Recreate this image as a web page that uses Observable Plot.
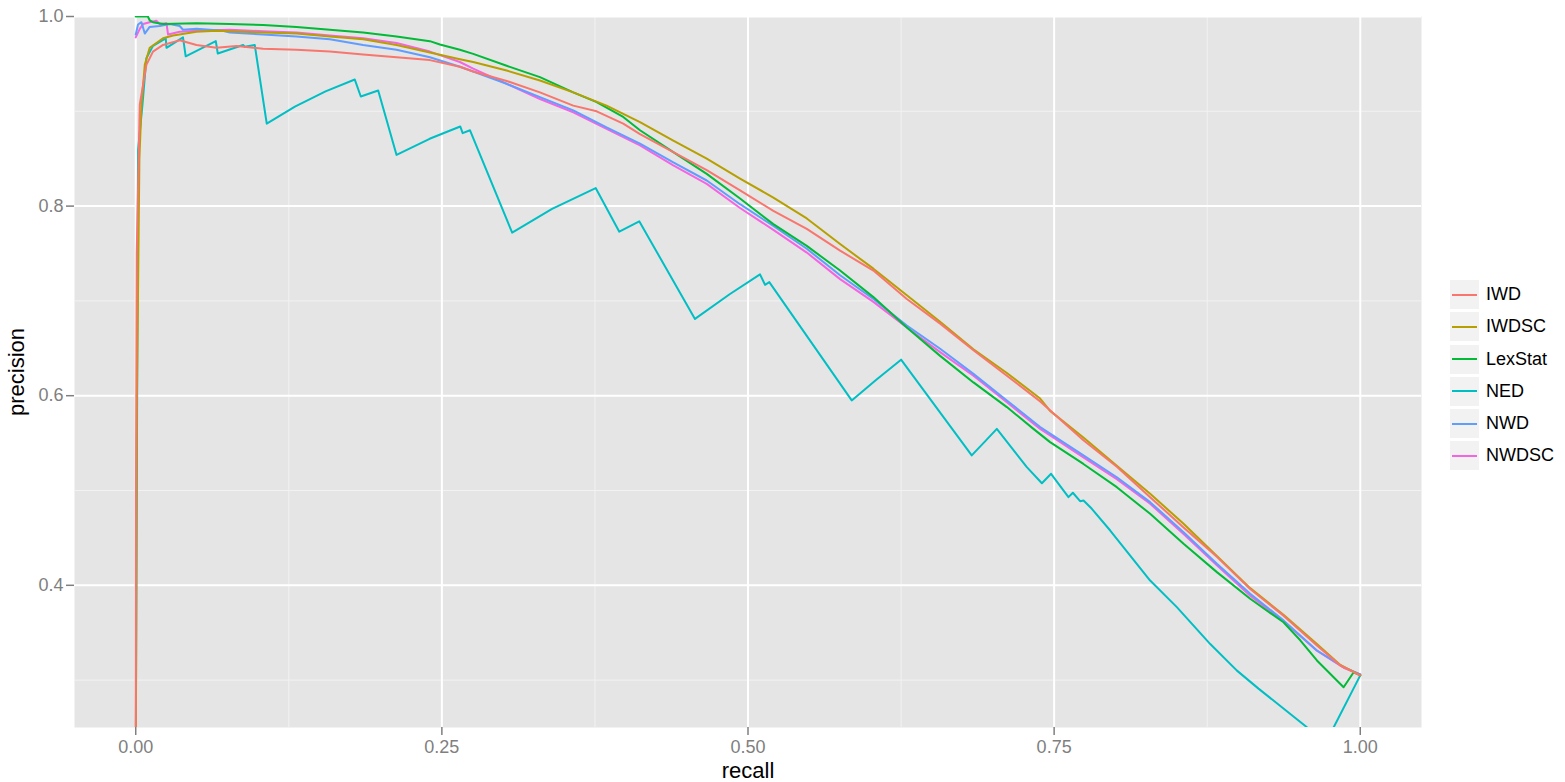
<!DOCTYPE html>
<html>
<head>
<meta charset="utf-8">
<script src="https://cdn.jsdelivr.net/npm/d3@7"></script>
<script src="https://cdn.jsdelivr.net/npm/@observablehq/plot@0.6"></script>
<style>
  body { margin: 0; background: #fff; font-family: "Liberation Sans", Arial, sans-serif; }
  #wrap { position: relative; width: 1565px; height: 782px; }
  #legend { position: absolute; left: 1450px; top: 280px; }
  .item { display: flex; align-items: center; height: 29px; margin-bottom: 3.3px; }
  .key { width: 29px; height: 29px; background: #F2F2F2; position: relative; margin-right: 7px; }
  .key span { position: absolute; left: 2px; right: 2px; top: 13.5px; height: 2px; }
  .lab { font-size: 18px; color: #000; }
  g[aria-label="x-axis tick"], g[aria-label="y-axis tick"] { stroke: #7F7F7F; stroke-width: 1.5px; }
  g[aria-label="x-axis tick label"], g[aria-label="y-axis tick label"] { fill: #7F7F7F; font-size: 18px; }
  g[aria-label="x-axis label"], g[aria-label="y-axis label"] { fill: #000; font-size: 22px; }
</style>
</head>
<body>
<div id="wrap"></div>
<script>
// ---- data ----
const series = ["IWD", "IWDSC", "LexStat", "NED", "NWD", "NWDSC"];
const colors = ["#F8766D", "#B79F00", "#00BA38", "#00BFC4", "#619CFF", "#F564E3"];

const xTicks = [0, 0.25, 0.5, 0.75, 1.0];
const xMinor = [0.125, 0.375, 0.625, 0.875];
const yTicks = [0.4, 0.6, 0.8, 1.0];
const yMinor = [0.3, 0.5, 0.7, 0.9];

const iwdRecall = [0, 0.0002, 0.0008, 0.0033, 0.0087, 0.0141, 0.0223, 0.0333, 0.0359, 0.0496, 0.0659, 0.0823, 0.104, 0.1313, 0.1585, 0.1857, 0.213, 0.2402, 0.2647, 0.2756, 0.3029, 0.3301, 0.3573, 0.3764, 0.3981, 0.4118, 0.439, 0.4663, 0.4935, 0.5207, 0.548, 0.5752, 0.6024, 0.6297, 0.6569, 0.6841, 0.7114, 0.7386, 0.7739, 0.8012, 0.8284, 0.8557, 0.8829, 0.9101, 0.9373, 0.9646, 0.9837, 1.0];
const iwdPrecision = [0.2, 0.5, 0.75, 0.907, 0.949, 0.963, 0.970, 0.974, 0.975, 0.970, 0.967, 0.969, 0.966, 0.965, 0.963, 0.960, 0.957, 0.954, 0.947, 0.942, 0.932, 0.920, 0.906, 0.900, 0.887, 0.876, 0.857, 0.838, 0.8165, 0.795, 0.776, 0.753, 0.732, 0.702, 0.676, 0.648, 0.621, 0.594, 0.553, 0.525, 0.493, 0.461, 0.430, 0.396, 0.368, 0.3365, 0.3154, 0.305];

const iwdscRecall = [0, 0.001, 0.003, 0.0047, 0.0074, 0.0114, 0.0223, 0.0305, 0.0496, 0.0659, 0.104, 0.1313, 0.1585, 0.1857, 0.213, 0.2402, 0.2647, 0.2756, 0.3029, 0.3301, 0.3573, 0.3845, 0.4118, 0.439, 0.4663, 0.4935, 0.5207, 0.548, 0.5752, 0.6024, 0.6297, 0.6569, 0.6841, 0.7114, 0.7386, 0.7467, 0.7739, 0.8012, 0.8284, 0.8557, 0.8829, 0.9101, 0.9373, 0.9646, 0.9837, 1.0];
const iwdscPrecision = [0.2, 0.6, 0.85, 0.907, 0.949, 0.967, 0.977, 0.980, 0.984, 0.985, 0.983, 0.982, 0.979, 0.976, 0.970, 0.962, 0.955, 0.952, 0.943, 0.9325, 0.920, 0.906, 0.8885, 0.869, 0.850, 0.829, 0.809, 0.787, 0.760, 0.734, 0.706, 0.678, 0.649, 0.624, 0.597, 0.584, 0.556, 0.526, 0.4965, 0.465, 0.431, 0.397, 0.369, 0.338, 0.316, 0.305];

const lexRecall = [0, 0.0099, 0.0114, 0.0141, 0.0223, 0.0496, 0.0768, 0.104, 0.1313, 0.1585, 0.1857, 0.213, 0.2402, 0.2484, 0.2647, 0.2756, 0.3029, 0.3301, 0.3573, 0.3764, 0.3981, 0.4118, 0.439, 0.4663, 0.4935, 0.5207, 0.548, 0.5752, 0.6024, 0.6297, 0.6569, 0.6841, 0.7114, 0.7331, 0.7467, 0.7739, 0.8012, 0.8284, 0.8557, 0.8829, 0.9101, 0.9373, 0.951, 0.9646, 0.9864, 0.9946, 1.0];
const lexPrecision = [1.0, 1.0, 0.996, 0.994, 0.992, 0.993, 0.992, 0.991, 0.989, 0.986, 0.983, 0.979, 0.974, 0.9705, 0.965, 0.9606, 0.948, 0.936, 0.920, 0.9096, 0.894, 0.880, 0.857, 0.834, 0.808, 0.781, 0.758, 0.732, 0.704, 0.672, 0.642, 0.614, 0.588, 0.565, 0.551, 0.528, 0.5035, 0.4754, 0.4438, 0.4139, 0.3858, 0.361, 0.342, 0.3207, 0.2925, 0.3083, 0.305];

const nedRecall = [0, 0.0019, 0.0055, 0.0087, 0.0141, 0.0245, 0.0251, 0.0386, 0.0408, 0.0654, 0.067, 0.0877, 0.089, 0.0972, 0.107, 0.13, 0.155, 0.1789, 0.1838, 0.198, 0.213, 0.24, 0.265, 0.267, 0.273, 0.3074, 0.34, 0.3756, 0.3949, 0.4112, 0.4567, 0.485, 0.5098, 0.5139, 0.5174, 0.5847, 0.605, 0.625, 0.6827, 0.693, 0.7032, 0.7277, 0.740, 0.7475, 0.7617, 0.7653, 0.7712, 0.774, 0.7808, 0.7958, 0.8284, 0.8502, 0.8775, 0.8993, 0.9169, 0.9567, 0.9714, 0.9782, 1.0];
const nedPrecision = [0.2, 0.859, 0.907, 0.956, 0.969, 0.977, 0.967, 0.978, 0.958, 0.974, 0.961, 0.970, 0.968, 0.970, 0.887, 0.905, 0.921, 0.9335, 0.9156, 0.922, 0.854, 0.871, 0.884, 0.877, 0.880, 0.772, 0.797, 0.819, 0.773, 0.784, 0.681, 0.707, 0.728, 0.717, 0.7198, 0.595, 0.617, 0.638, 0.537, 0.551, 0.565, 0.5246, 0.5077, 0.5176, 0.493, 0.4976, 0.4887, 0.4895, 0.4807, 0.4578, 0.405, 0.377, 0.338, 0.310, 0.291, 0.250, 0.235, 0.250, 0.305];

const nwdRecall = [0, 0.0019, 0.0047, 0.0074, 0.0114, 0.0196, 0.0278, 0.0359, 0.0386, 0.0496, 0.0713, 0.0768, 0.104, 0.1313, 0.1585, 0.1857, 0.213, 0.2402, 0.2647, 0.2756, 0.3029, 0.3301, 0.3573, 0.3845, 0.4118, 0.439, 0.4663, 0.4935, 0.5207, 0.548, 0.5752, 0.6024, 0.6297, 0.6569, 0.6841, 0.7114, 0.7386, 0.7467, 0.7739, 0.8012, 0.8284, 0.8557, 0.8829, 0.9101, 0.9373, 0.9646, 0.9864, 1.0];
const nwdPrecision = [0.981, 0.9916, 0.994, 0.982, 0.989, 0.990, 0.992, 0.990, 0.986, 0.987, 0.985, 0.983, 0.981, 0.979, 0.976, 0.970, 0.965, 0.957, 0.947, 0.942, 0.929, 0.915, 0.901, 0.883, 0.866, 0.846, 0.827, 0.802, 0.779, 0.755, 0.727, 0.702, 0.674, 0.6495, 0.623, 0.595, 0.567, 0.560, 0.537, 0.514, 0.4877, 0.456, 0.4227, 0.391, 0.363, 0.3312, 0.3136, 0.306];

const nwdscRecall = [0, 0.0033, 0.006, 0.0114, 0.0169, 0.0196, 0.0251, 0.0264, 0.0359, 0.0496, 0.0768, 0.104, 0.1313, 0.1585, 0.1857, 0.213, 0.2402, 0.2647, 0.2756, 0.3029, 0.3301, 0.3573, 0.3845, 0.4118, 0.439, 0.4663, 0.4935, 0.5207, 0.548, 0.5752, 0.6024, 0.6297, 0.6569, 0.6841, 0.7114, 0.7386, 0.7467, 0.7739, 0.8012, 0.8284, 0.8557, 0.8829, 0.9101, 0.9373, 0.9646, 0.9864, 1.0];
const nwdscPrecision = [0.978, 0.987, 0.992, 0.994, 0.9955, 0.992, 0.993, 0.981, 0.984, 0.985, 0.986, 0.9845, 0.983, 0.980, 0.977, 0.972, 0.963, 0.952, 0.945, 0.929, 0.913, 0.899, 0.8815, 0.864, 0.843, 0.8235, 0.798, 0.775, 0.751, 0.723, 0.699, 0.672, 0.646, 0.621, 0.593, 0.565, 0.558, 0.535, 0.512, 0.486, 0.454, 0.421, 0.389, 0.362, 0.331, 0.313, 0.306];

// ---- build table (drawn in reverse order so IWD ends on top) ----
const seriesData = {
  IWD: [iwdRecall, iwdPrecision],
  IWDSC: [iwdscRecall, iwdscPrecision],
  LexStat: [lexRecall, lexPrecision],
  NED: [nedRecall, nedPrecision],
  NWD: [nwdRecall, nwdPrecision],
  NWDSC: [nwdscRecall, nwdscPrecision]
};
const rows = [];
for (const name of series.slice().reverse()) {
  const [r, p] = seriesData[name];
  r.forEach((v, i) => rows.push({method: name, recall: v, precision: p[i]}));
}

const chart = Plot.plot({
  width: 1565,
  height: 782,
  marginLeft: 74,
  marginRight: 144,
  marginTop: 16,
  marginBottom: 55,
  style: {fontFamily: "'Liberation Sans', Arial, sans-serif", background: "transparent", overflow: "visible"},
  x: {domain: [-0.05, 1.05]},
  y: {domain: [0.25, 1.0]},
  color: {domain: series, range: colors},
  marks: [
    Plot.frame({fill: "#E5E5E5", stroke: null}),
    Plot.ruleX(xMinor, {stroke: "#F2F2F2", strokeWidth: 1}),
    Plot.ruleY(yMinor, {stroke: "#F2F2F2", strokeWidth: 1}),
    Plot.ruleX(xTicks, {stroke: "#FFFFFF", strokeWidth: 2}),
    Plot.ruleY(yTicks, {stroke: "#FFFFFF", strokeWidth: 2}),
    Plot.line(rows, {x: "recall", y: "precision", z: "method", stroke: "method", strokeWidth: 2, clip: true}),
    Plot.axisX({ticks: xTicks, tickFormat: d3.format(".2f"), tickSize: 8, tickPadding: 5, label: "recall", labelArrow: "none", labelAnchor: "center", labelOffset: 50}),
    Plot.axisY({ticks: yTicks, tickFormat: d3.format(".1f"), tickSize: 8, tickPadding: 3, label: "precision", labelArrow: "none", labelAnchor: "center", labelOffset: 66})
  ]
});

const wrap = document.getElementById("wrap");
wrap.appendChild(chart);

// legend (right of the panel, ggplot style)
const legend = d3.select(wrap).append("div").attr("id", "legend");
series.forEach((name, i) => {
  const item = legend.append("div").attr("class", "item");
  item.append("div").attr("class", "key").append("span").style("background", colors[i]);
  item.append("div").attr("class", "lab").text(name);
});
</script>
</body>
</html>
